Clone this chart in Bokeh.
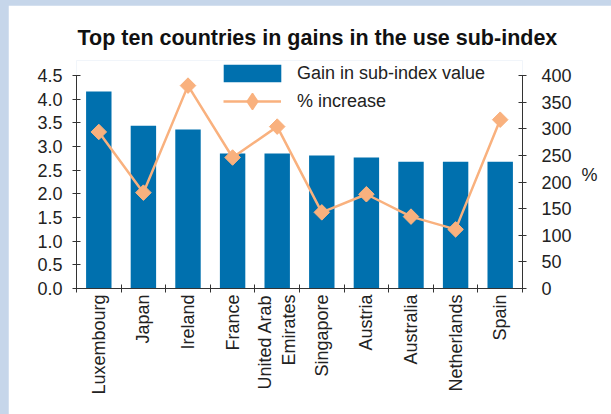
import numpy as np
from bokeh.plotting import figure
from bokeh.models import (Range1d, LinearAxis, FixedTicker, ColumnDataSource,
                          Legend, LegendItem)
from bokeh.embed import file_html
from bokeh.resources import INLINE
from jinja2 import Template

countries = ["Luxembourg", "Japan", "Ireland", "France", "United Arab\nEmirates",
             "Singapore", "Austria", "Australia", "Netherlands", "Spain"]
gain = [4.16, 3.44, 3.36, 2.85, 2.85, 2.81, 2.77, 2.68, 2.68, 2.68]
pct_increase = [294, 180, 381, 246, 304, 143, 177, 135, 111, 317]
left_ticks = [0.0, 0.5, 1.0, 1.5, 2.0, 2.5, 3.0, 3.5, 4.0, 4.5]
right_ticks = [0, 50, 100, 150, 200, 250, 300, 350, 400]

BAR = "#0070ae"
LINE = "#f9b17e"
AX = "#333333"
TXT = "#222222"
FONT = "Liberation Sans"
FS = "18px"

# frame is 228px tall; the axes themselves span the lower 213px
EXT = 228 / 213

xpos = [i + 0.5 for i in range(len(countries))]
src = ColumnDataSource(dict(x=xpos, gain=gain, pct=pct_increase))

p = figure(width=603, height=409, output_backend="svg", toolbar_location=None,
           x_range=Range1d(0, len(countries)),
           y_range=Range1d(0, left_ticks[-1] * EXT),
           min_border_left=68, min_border_right=89, min_border_top=55,
           min_border_bottom=126, x_axis_type=None, y_axis_type=None)
p.title.text = "Top ten countries in gains in the use sub-index"
p.title.align = "left"
p.title.text_font = FONT
p.title.text_font_size = "21.5px"
p.title.text_font_style = "bold"
p.title.text_color = "#111111"
p.title.offset = 1
p.title.standoff = 22
p.outline_line_color = None
p.background_fill_color = "white"
p.border_fill_color = "white"
p.xgrid.visible = False
p.ygrid.visible = False
p.extra_y_ranges = {"pct": Range1d(0, right_ticks[-1] * EXT)}

def style_axis(ax):
    ax.axis_line_color = AX
    ax.major_tick_line_color = AX
    ax.major_tick_in = 4
    ax.major_tick_out = 4
    ax.minor_tick_line_color = None
    ax.major_label_text_font = FONT
    ax.major_label_text_font_size = FS
    ax.major_label_text_color = TXT

ly = LinearAxis(ticker=FixedTicker(ticks=left_ticks),
                bounds=(left_ticks[0], left_ticks[-1]))
style_axis(ly)
ly.major_label_overrides = {t: f"{t:.1f}" for t in left_ticks}
ly.major_label_standoff = 10
p.add_layout(ly, "left")

ry = LinearAxis(y_range_name="pct", ticker=FixedTicker(ticks=right_ticks),
                bounds=(right_ticks[0], right_ticks[-1]))
style_axis(ry)
ry.major_label_standoff = 15
ry.axis_label = "%"
ry.axis_label_text_font = FONT
ry.axis_label_text_font_size = FS
ry.axis_label_text_font_style = "normal"
ry.axis_label_text_color = TXT
ry.axis_label_orientation = "horizontal"
ry.axis_label_standoff = 7
p.add_layout(ry, "right")

# boundary ticks on x
xb = LinearAxis(ticker=FixedTicker(ticks=list(range(len(countries) + 1))))
style_axis(xb)
xb.major_label_text_font_size = "0px"
xb.major_label_text_color = None
xb.major_label_standoff = 0
p.add_layout(xb, "below")

# category label axis
xl = LinearAxis(ticker=FixedTicker(ticks=xpos))
xl.major_label_overrides = {x: c for x, c in zip(xpos, countries)}
xl.axis_line_color = None
xl.major_tick_line_color = None
xl.major_tick_in = 0
xl.major_tick_out = 0
xl.minor_tick_line_color = None
xl.major_label_orientation = np.pi / 2
xl.major_label_text_font = FONT
xl.major_label_text_font_size = FS
xl.major_label_text_color = TXT
xl.major_label_standoff = 2
p.add_layout(xl, "below")

bars = p.vbar(x="x", top="gain", width=0.57, source=src, fill_color=BAR,
              line_color=None)
ln = p.line(x="x", y="pct", source=src, line_color=LINE, line_width=2.5,
            y_range_name="pct")
# diamond glyph (used for the legend), covered by the rotated square markers
mk_d = p.scatter(x="x", y="pct", source=src, marker="diamond", size=13,
                 fill_color=LINE, line_color=LINE, line_width=1.5,
                 y_range_name="pct")
mk = p.scatter(x="x", y="pct", source=src, marker="square", angle=np.pi / 4,
               size=11, fill_color=LINE, line_color=LINE, y_range_name="pct")

leg1 = Legend(items=[LegendItem(label="Gain in sub-index value", renderers=[bars])],
              location=(140, 204), glyph_width=72, glyph_height=22,
              label_standoff=9, padding=0, margin=0, border_line_color=None,
              background_fill_alpha=0, label_text_font=FONT,
              label_text_font_size=FS, label_text_color=TXT)
leg2 = Legend(items=[LegendItem(label="% increase", renderers=[ln, mk_d])],
              location=(147, 167), glyph_width=58, glyph_height=40,
              label_standoff=16, padding=0, margin=0, border_line_color=None,
              background_fill_alpha=0, label_text_font=FONT,
              label_text_font_size=FS, label_text_color=TXT)
p.add_layout(leg1, "center")
p.add_layout(leg2, "center")

template = Template("""<!DOCTYPE html>
<html lang="en">
<head>
<meta charset="utf-8">
<title>{{ title }}</title>
{{ bokeh_css }}
{{ bokeh_js }}
<style>body { background: #c6d6ea; margin: 5px 0 0 8px; }</style>
</head>
<body>
{{ plot_div }}
{{ plot_script }}
</body>
</html>
""")

open("out.html", "w").write(file_html(p, INLINE, template=template))
